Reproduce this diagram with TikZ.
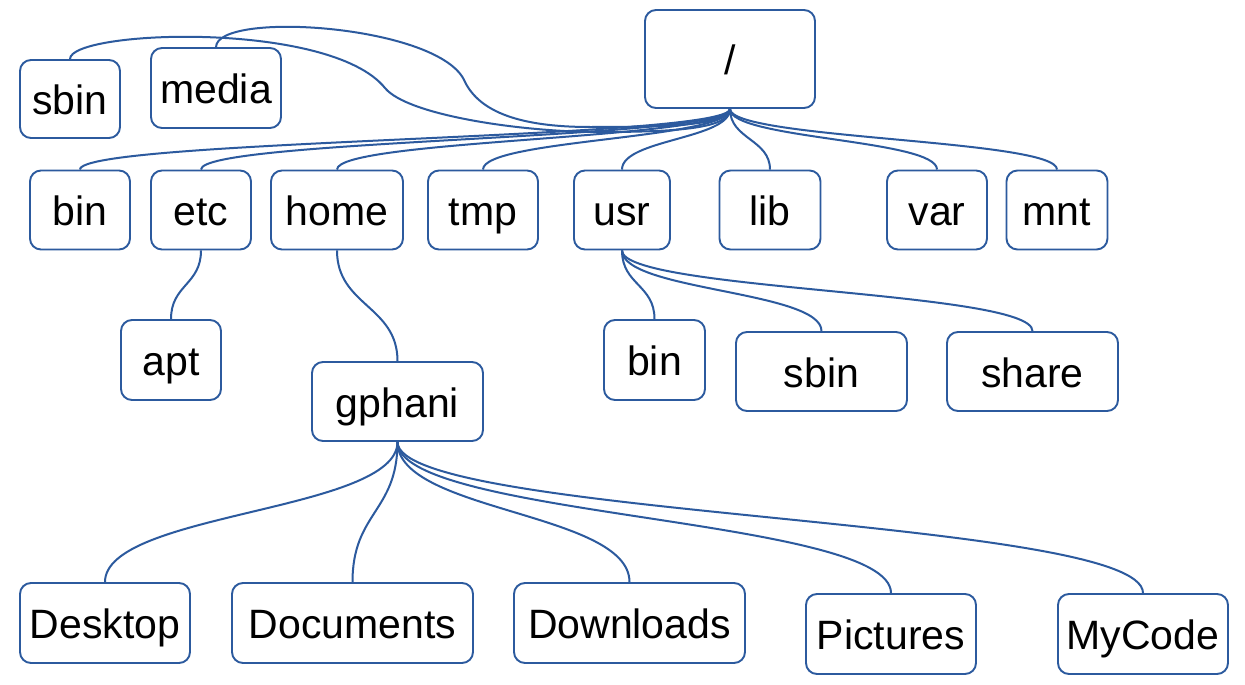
\documentclass[tikz,border=0pt]{standalone}
\usepackage{fontspec}
\setmainfont{Liberation Sans}
\usetikzlibrary{calc}
\definecolor{lineblue}{RGB}{44,90,158}
\newcommand\sconn[2]{\draw[conn] let \p1=(#1.south), \p2=(#2.north) in (\p1) .. controls (\x1,{0.5*(\y1+\y2)}) and (\x2,{0.5*(\y1+\y2)}) .. (\p2);}
\begin{document}
\begin{tikzpicture}[x=1pt,y=-1pt,
  box/.style={draw=lineblue,line width=1.9pt,rounded corners=11pt,fill=white,inner sep=0pt,
    text height=31pt,text depth=0pt,font=\fontsize{41}{41}\selectfont},
  conn/.style={draw=lineblue,line width=2pt}]
\useasboundingbox[fill=white] (0,0) rectangle (1245,685);
% top level
\node[box,minimum width=170pt,minimum height=98pt] (root) at (730,59) {/};
\node[box,minimum width=100pt,minimum height=78pt] (sbinT) at (70,99) {sbin};
\node[box,minimum width=130pt,minimum height=80pt] (media) at (216,88) {media};
% row 1
\node[box,minimum width=100pt,minimum height=79pt] (bin) at (80,210) {bin};
\node[box,minimum width=100pt,minimum height=79pt] (etc) at (201,210) {etc};
\node[box,minimum width=132pt,minimum height=79pt] (home) at (337,210) {home};
\node[box,minimum width=110pt,minimum height=79pt] (tmp) at (483,210) {tmp};
\node[box,minimum width=96pt,minimum height=79pt] (usr) at (622,210) {usr};
\node[box,minimum width=101pt,minimum height=79pt] (lib) at (770,210) {lib};
\node[box,minimum width=100pt,minimum height=79pt] (var) at (937,210) {var};
\node[box,minimum width=101pt,minimum height=79pt] (mnt) at (1057,210) {mnt};
% row 2
\node[box,minimum width=100pt,minimum height=80pt] (apt) at (171,360) {apt};
\node[box,minimum width=171pt,minimum height=79pt] (gphani) at (397.5,401.5) {gphani};
\node[box,minimum width=101pt,minimum height=80pt] (ubin) at (654.5,360) {bin};
\node[box,minimum width=171pt,minimum height=79pt] (usbin) at (821.5,371.5) {sbin};
\node[box,minimum width=171pt,minimum height=79pt] (share) at (1032.5,371.5) {share};
% row 3
\node[box,minimum width=170pt,minimum height=80pt] (desk) at (105,623) {Desktop};
\node[box,minimum width=241pt,minimum height=80pt] (docs) at (352.5,623) {Documents};
\node[box,minimum width=231pt,minimum height=80pt] (down) at (629.5,623) {Downloads};
\node[box,minimum width=170pt,minimum height=80pt] (pics) at (891,634) {Pictures};
\node[box,minimum width=170pt,minimum height=80pt] (code) at (1143,634) {MyCode};
% connectors from root
\foreach \c in {bin,etc,home,tmp,usr,lib,var,mnt}{\sconn{root}{\c}}
\draw[conn] (root.south) .. controls (730,128) and (680,132) .. (600,132)
  .. controls (520,132) and (407,115) .. (385,88)
  .. controls (330,20) and (70,30) .. (sbinT.north);
\draw[conn] (root.south) .. controls (730,126) and (660,127) .. (590,127)
  .. controls (520,127) and (480,112) .. (465,82)
  .. controls (442,25) and (217,10) .. (media.north);
% other connectors
\sconn{etc}{apt}
\sconn{home}{gphani}
\foreach \c in {ubin,usbin,share}{\sconn{usr}{\c}}
\foreach \c in {desk,docs,down,pics,code}{\sconn{gphani}{\c}}
\end{tikzpicture}
\end{document}
